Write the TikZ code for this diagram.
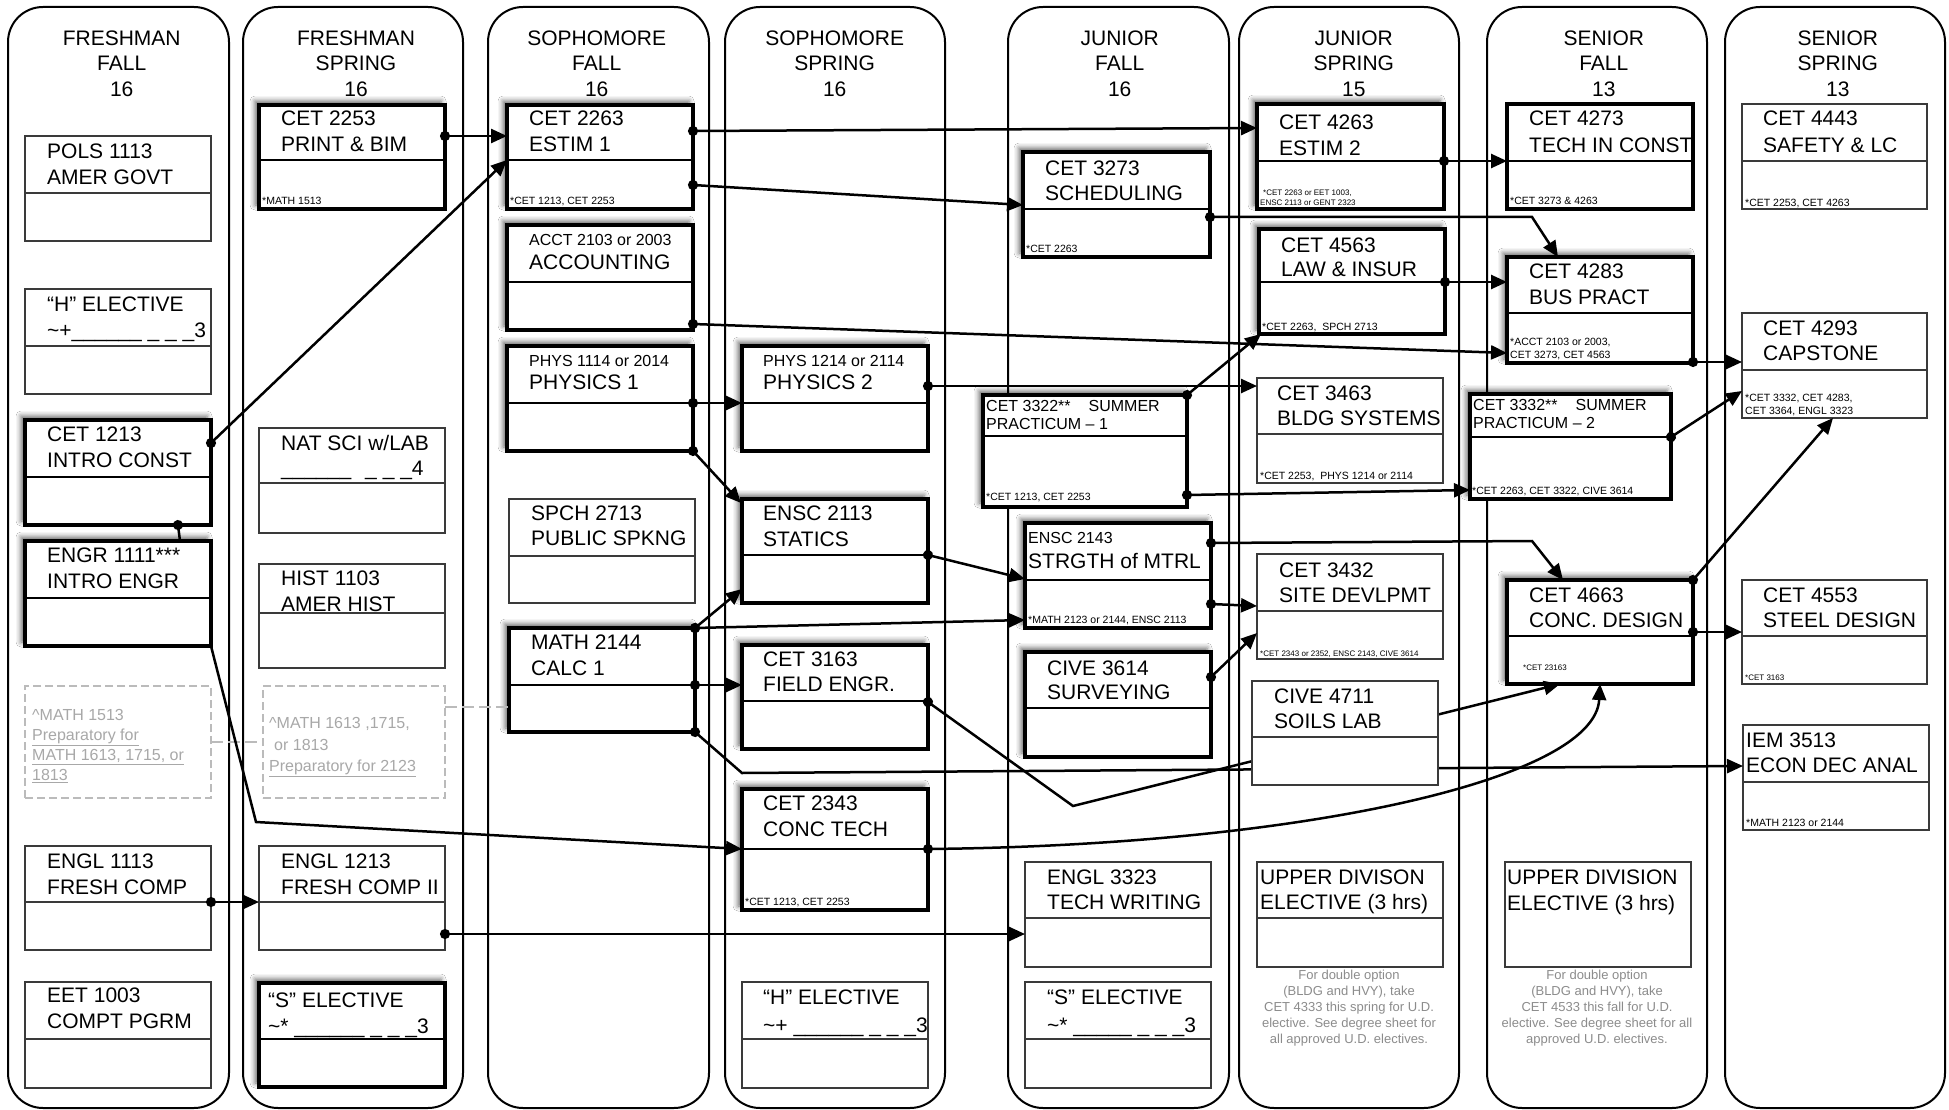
\documentclass[tikz,border=0pt]{standalone}
\usepackage{fontspec}
\setmainfont{Liberation Sans}
\usetikzlibrary{arrows.meta,calc,shadows.blur}
\definecolor{thingray}{HTML}{3A3A3A}
\definecolor{dashgray}{HTML}{BBBBBB}
\definecolor{notegray}{HTML}{8C8C8C}
\definecolor{dashtext}{HTML}{A8A8A8}
\newcommand\fs[1]{\fontsize{#1}{#1}\selectfont}
% box: name, style, x1, y1, x2, y2, y of divider
\newcommand\crs[7]{%
  \node[#2, minimum width={(#5-#3)*1pt}, minimum height={(#6-#4)*1pt}] (#1) at (#3,#4) {};
  \draw[#2 div] ($(#1.north west)+(0,#7-#4)$) -- ($(#1.north east)+(0,#7-#4)$);}
% two title lines: name, x, y1, text1, y2, text2
\newcommand\ttl[6]{%
  \node[ttl] (#1-a) at (#2,#3) {#4};
  \node[ttl] (#1-b) at (#2,#5) {#6};}
\newcommand\nt[4]{\node[nt] (#1) at (#2,#3) {#4};}
\newcommand\ntt[4]{\node[ntt] (#1) at (#2,#3) {#4};}
\newcommand\hdr[5]{%
  \node[hdr] (#1-a) at (#2,38) {#3};
  \node[hdr] (#1-b) at (#2,63) {#4};
  \node[hdr] (#1-c) at (#2,89) {#5};}
\begin{document}
\begin{tikzpicture}[x=1pt,y=-1pt,
  column/.style={draw=black, line width=2pt, rounded corners=35pt},
  boxbase/.style={anchor=north west, inner sep=0pt, outer sep=0pt, fill=white},
  thinbox/.style={boxbase, draw=thingray, line width=1.5pt},
  thickbox/.style={boxbase, draw=black, line width=4pt,
    blur shadow={shadow xshift=-4pt, shadow yshift=4pt, shadow blur radius=5pt, shadow opacity=60}},
  thickns/.style={boxbase, draw=black, line width=4pt},
  thinbox div/.style={draw=thingray, line width=1.5pt},
  thickbox div/.style={draw=black, line width=2pt},
  thickns div/.style={draw=black, line width=2pt},
  dashbox/.style={anchor=north west, inner sep=0pt, outer sep=0pt, draw=dashgray, line width=2.5pt, dash pattern=on 8pt off 4pt},
  ttl/.style={anchor=west, inner sep=0pt, text height=15pt, text depth=0pt, font=\fs{21}},
  ttls/.style={anchor=west, inner sep=0pt, text height=11.5pt, text depth=0pt, font=\fs{16}},
  nt/.style={anchor=west, inner sep=0pt, text height=7.5pt, text depth=0pt, font=\fs{10.5}},
  ntt/.style={anchor=west, inner sep=0pt, text height=5.8pt, text depth=0pt, font=\fs{8}},
  hdr/.style={anchor=center, inner sep=0pt, text height=15pt, text depth=0pt, font=\fs{21}},
  dtxt/.style={anchor=west, inner sep=0pt, text height=11.5pt, text depth=0pt, font=\fs{16}, text=dashtext},
  graynote/.style={anchor=north, align=center, inner sep=0pt, font=\fontsize{13}{16}\selectfont, text=notegray},
  conn/.style={line width=2.5pt, shorten <=-5pt, {Circle[length=10pt]}-{Triangle[length=16pt,width=14pt]}},
  dotln/.style={line width=2.5pt, shorten <=-5pt, {Circle[length=10pt]}-},
  arrln/.style={line width=2.5pt, -{Triangle[length=16pt,width=14pt]}},
  dashconn/.style={draw=dashgray, line width=2pt, dash pattern=on 12pt off 5pt}
]
\useasboundingbox (0,0) rectangle (1949,1110);
\fill[white] (0,0) rectangle (1949,1110);
% columns
\draw[column] (8,7) rectangle (229,1108);
\draw[column] (243,7) rectangle (463,1108);
\draw[column] (488,7) rectangle (709,1108);
\draw[column] (725,7) rectangle (945,1108);
\draw[column] (1008,7) rectangle (1229,1108);
\draw[column] (1239,7) rectangle (1459,1108);
\draw[column] (1487,7) rectangle (1707,1108);
\draw[column] (1725,7) rectangle (1945,1108);
\hdr{h1}{121.7}{FRESHMAN}{FALL}{16}
\hdr{h2}{356}{FRESHMAN}{SPRING}{16}
\hdr{h3}{596.7}{SOPHOMORE}{FALL}{16}
\hdr{h4}{834.7}{SOPHOMORE}{SPRING}{16}
\hdr{h5}{1119.7}{JUNIOR}{FALL}{16}
\hdr{h6}{1353.8}{JUNIOR}{SPRING}{15}
\hdr{h7}{1603.8}{SENIOR}{FALL}{13}
\hdr{h8}{1837.8}{SENIOR}{SPRING}{13}

% ---- column 1
\crs{pols}{thinbox}{25}{136}{211}{241}{193}
\ttl{pols}{47}{151}{POLS 1113}{177}{AMER GOVT}
\crs{helecA}{thinbox}{25}{289}{211}{394}{346}
\ttl{helecA}{47}{304}{“H” ELECTIVE}{330}{\textasciitilde+\_\_\_\_\_\_ \_ \_ \_3}
\crs{cet1213}{thickbox}{25}{420}{211}{525}{477}
\ttl{cet1213}{47}{434}{CET 1213}{460}{INTRO CONST}
\crs{engr1111}{thickbox}{25}{541}{211}{646}{598}
\ttl{engr1111}{47}{555}{ENGR 1111***}{581}{INTRO ENGR}
\node[dashbox, minimum width=186pt, minimum height=112pt] (math1513) at (25,686) {};
\node[dtxt] (math1513-a) at (32,715) {\textasciicircum MATH 1513};
\node[dtxt] (math1513-b) at (32,735) {\underline{Preparatory for}};
\node[dtxt] (math1513-c) at (32,755) {\underline{MATH 1613, 1715, or}};
\node[dtxt] (math1513-d) at (32,775) {\underline{1813}};
\crs{engl1113}{thinbox}{25}{846}{211}{950}{902}
\ttl{engl1113}{47}{861}{ENGL 1113}{887}{FRESH COMP}
\crs{eet1003}{thinbox}{25}{982}{211}{1088}{1039}
\ttl{eet1003}{47}{995}{EET 1003}{1021}{COMPT PGRM}

% ---- column 2
\crs{cet2253}{thickbox}{259}{105}{445}{209}{160}
\ttl{cet2253}{281}{118}{CET 2253}{144}{PRINT \& BIM}
\nt{cet2253-n}{262}{201}{*MATH 1513}
\crs{natsci}{thinbox}{259}{428}{445}{533}{483}
\ttl{natsci}{281}{443}{NAT SCI w/LAB}{468}{\_\_\_\_\_\_\hspace{14pt}\_ \_ \_4}
\crs{hist1103}{thinbox}{259}{564}{445}{668}{613}
\ttl{hist1103}{281}{578}{HIST 1103}{604}{AMER HIST}
\node[dashbox, minimum width=182pt, minimum height=112pt] (math1613) at (263,686) {};
\node[dtxt] (math1613-a) at (269,723) {\textasciicircum MATH 1613 ,1715,};
\node[dtxt] (math1613-b) at (274,745) {or 1813};
\node[dtxt] (math1613-c) at (269,766) {\underline{Preparatory for 2123}};
\crs{engl1213}{thinbox}{259}{846}{445}{950}{902}
\ttl{engl1213}{281}{861}{ENGL 1213}{887}{FRESH COMP II}
\crs{selecA}{thickbox}{259}{983}{445}{1087}{1039}
\ttl{selecA}{268}{1000}{“S” ELECTIVE}{1026}{\textasciitilde* \_\_\_\_\_\_ \_ \_ \_3}

% ---- column 3
\crs{cet2263}{thickbox}{507}{105}{693}{209}{160}
\ttl{cet2263}{529}{118}{CET 2263}{144}{ESTIM 1}
\nt{cet2263-n}{510}{201}{*CET 1213, CET 2253}
\crs{acct}{thickbox}{507}{225}{693}{330}{282}
\node[ttls] (acct-a) at (529,240) {ACCT 2103 or 2003};
\node[ttl] (acct-b) at (529,262) {ACCOUNTING};
\crs{phys1}{thickbox}{507}{346}{693}{451}{403}
\node[ttls] (phys1-a) at (529,361) {PHYS 1114 or 2014};
\node[ttl] (phys1-b) at (529,382) {PHYSICS 1};
\crs{spch}{thinbox}{509}{499}{695}{603}{556}
\ttl{spch}{531}{513}{SPCH 2713}{538}{PUBLIC SPKNG}
\crs{math2144}{thickbox}{509}{628}{695}{732}{685}
\ttl{math2144}{531}{642}{MATH 2144}{668}{CALC 1}

% ---- column 4
\crs{phys2}{thickbox}{742}{346}{928}{451}{403}
\node[ttls] (phys2-a) at (763,361) {PHYS 1214 or 2114};
\node[ttl] (phys2-b) at (763,382) {PHYSICS 2};
\crs{ensc2113}{thickbox}{742}{499}{928}{603}{555}
\ttl{ensc2113}{763}{513}{ENSC 2113}{539}{STATICS}
\crs{cet3163}{thickbox}{742}{645}{928}{749}{701}
\ttl{cet3163}{763}{659}{CET 3163}{684}{FIELD ENGR.}
\crs{cet2343}{thickbox}{742}{789}{928}{910}{849}
\ttl{cet2343}{763}{803}{CET 2343}{829}{CONC TECH}
\nt{cet2343-n}{745}{902}{*CET 1213, CET 2253}
\crs{helecB}{thinbox}{742}{982}{928}{1088}{1039}
\ttl{helecB}{763}{997}{“H” ELECTIVE}{1025}{\textasciitilde+ \_\_\_\_\_\_ \_ \_ \_3}

% ---- column 5
\crs{cet3273}{thickbox}{1023}{152}{1210}{257}{209}
\ttl{cet3273}{1045}{168}{CET 3273}{193}{SCHEDULING}
\nt{cet3273-n}{1026}{249}{*CET 2263}
\crs{cet3322}{thickbox}{983}{395}{1187}{507}{436}
\node[ttls] (cet3322-a) at (986,406) {CET 3322**\hspace{18pt}SUMMER};
\node[ttls] (cet3322-b) at (986,424) {PRACTICUM – 1};
\nt{cet3322-n}{986}{497}{*CET 1213, CET 2253}
\crs{strgth}{thickbox}{1025}{523}{1211}{628}{580}
\node[ttls] (strgth-a) at (1028,538) {ENSC 2143};
\node[ttl] (strgth-b) at (1028,561) {STRGTH of MTRL};
\nt{strgth-n}{1028}{620}{*MATH 2123 or 2144, ENSC 2113}
\crs{cive3614}{thickbox}{1025}{652}{1211}{757}{708}
\ttl{cive3614}{1047}{668}{CIVE 3614}{692}{SURVEYING}
\crs{engl3323}{thinbox}{1025}{862}{1211}{967}{918}
\ttl{engl3323}{1047}{877}{ENGL 3323}{902}{TECH WRITING}
\crs{selecB}{thinbox}{1025}{982}{1211}{1088}{1039}
\ttl{selecB}{1047}{997}{“S” ELECTIVE}{1025}{\textasciitilde* \_\_\_\_\_ \_ \_ \_3}

% ---- column 6
\crs{cet4263}{thickbox}{1257}{104}{1444}{209}{161}
\ttl{cet4263}{1279}{122}{CET 4263}{148}{ESTIM 2}
\ntt{cet4263-n}{1263}{193}{*CET 2263 or EET 1003,}
\ntt{cet4263-m}{1260}{203}{ENSC 2113 or GENT 2323}
\crs{cet4563}{thickbox}{1259}{229}{1445}{334}{282}
\ttl{cet4563}{1281}{245}{CET 4563}{269}{LAW \& INSUR}
\nt{cet4563-n}{1262}{327}{*CET 2263,\ \ SPCH 2713}
\crs{cet3463}{thinbox}{1257}{378}{1443}{483}{434}
\ttl{cet3463}{1277}{393}{CET 3463}{418}{BLDG SYSTEMS}
\nt{cet3463-n}{1260}{476}{*CET 2253,\ \ PHYS 1214 or 2114}
\crs{cet3432}{thinbox}{1257}{554}{1443}{659}{611}
\ttl{cet3432}{1279}{570}{CET 3432}{595}{SITE DEVLPMT}
\ntt{cet3432-n}{1260}{654}{*CET 2343 or 2352, ENSC 2143, CIVE 3614}
\crs{udeA}{thinbox}{1257}{862}{1443}{967}{918}
\ttl{udeA}{1260}{877}{UPPER DIVISON}{902}{ELECTIVE (3 hrs)}
\node[graynote] (udeA-note) at (1349,970) {For double option\\(BLDG and HVY), take\\CET 4333 this spring for U.D.\\elective. See degree sheet for\\all approved U.D. electives.};

% ---- column 7
\crs{cet4273}{thickns}{1507}{104}{1693}{209}{161}
\ttl{cet4273}{1529}{118}{CET 4273}{145}{TECH IN CONST}
\nt{cet4273-n}{1510}{201}{*CET 3273 \& 4263}
\crs{cet4283}{thickbox}{1507}{257}{1693}{363}{313}
\ttl{cet4283}{1529}{271}{CET 4283}{297}{BUS PRACT}
\nt{cet4283-n}{1510}{342}{*ACCT 2103 or 2003,}
\nt{cet4283-m}{1510}{355}{CET 3273, CET 4563}
\crs{cet3332}{thickbox}{1470}{394}{1671}{499}{437}
\node[ttls] (cet3332-a) at (1473,405) {CET 3332**\hspace{18pt}SUMMER};
\node[ttls] (cet3332-b) at (1473,423) {PRACTICUM – 2};
\nt{cet3332-n}{1472}{491}{*CET 2263, CET 3322, CIVE 3614}
\crs{cet4663}{thickbox}{1507}{580}{1693}{684}{636}
\ttl{cet4663}{1529}{595}{CET 4663}{620}{CONC. DESIGN}
\ntt{cet4663-n}{1523}{668}{*CET 23163}
\node[thinbox, minimum width=186pt, minimum height=105pt] (udeB) at (1505,862) {};
\ttl{udeB}{1507}{877}{UPPER DIVISION}{903}{ELECTIVE (3 hrs)}
\node[graynote] (udeB-note) at (1597,970) {For double option\\(BLDG and HVY), take\\CET 4533 this fall for U.D.\\elective. See degree sheet for all\\approved U.D. electives.};

% ---- column 8
\crs{cet4443}{thinbox}{1742}{104}{1927}{209}{161}
\ttl{cet4443}{1763}{118}{CET 4443}{145}{SAFETY \& LC}
\nt{cet4443-n}{1745}{203}{*CET 2253, CET 4263}
\crs{cet4293}{thinbox}{1742}{313}{1927}{418}{370}
\ttl{cet4293}{1763}{328}{CET 4293}{353}{CAPSTONE}
\nt{cet4293-n}{1745}{398}{*CET 3332, CET 4283,}
\nt{cet4293-m}{1745}{411}{CET 3364,\ ENGL 3323}
\crs{cet4553}{thinbox}{1742}{580}{1927}{684}{636}
\ttl{cet4553}{1763}{595}{CET 4553}{620}{STEEL DESIGN}
\ntt{cet4553-n}{1745}{678}{*CET 3163}
\crs{iem3513}{thinbox}{1743}{725}{1929}{830}{782}
\ttl{iem3513}{1746}{740}{IEM 3513}{765}{ECON DEC ANAL}
\nt{iem3513-n}{1746}{823}{*MATH 2123 or 2144}

% ---- connectors passing behind CIVE 4711
\draw[conn] (math2144.south east) -- ++(47,41) -- ($(iem3513.north west)+(0,41)$);
\draw[conn] ($(cet3163.north east)+(0,57)$) -- ++(145,104) -- ($(cet4663.south west)+(53,0)$);
\crs{cive4711}{thinbox}{1252}{681}{1438}{785}{737}
\ttl{cive4711}{1274}{696}{CIVE 4711}{721}{SOILS LAB}

% ---- dashed links
\draw[dashconn] ($(math1513.north east)+(0,56)$) -- ($(math1613.north west)+(0,56)$);
\draw[dashconn] ($(math1613.north east)+(0,21)$) -- ($(math2144.north west)+(0,79)$);

% ---- connectors
\draw[conn] ($(cet2253.north east)+(0,31)$) -- ($(cet2263.north west)+(0,31)$);
\draw[conn] ($(cet1213.north east)+(0,23)$) -- ($(cet2263.north west)+(0,55)$);
\draw[dotln] ($(cet1213.south west)+(153,0)$) -- ($(engr1111.north west)+(155,0)$);
\draw[conn] ($(cet2263.north east)+(0,26)$) -- ($(cet4263.north west)+(0,24)$);
\draw[conn] ($(cet2263.north east)+(0,80)$) -- ($(cet3273.north west)+(0,53)$);
\draw[conn] ($(acct.north east)+(0,99)$) -- ($(cet4283.north west)+(0,96)$);
\draw[conn] ($(cet3273.north east)+(0,65)$) -- ++(322,0) -- ($(cet4283.north west)+(51,0)$);
\draw[conn] ($(cet4263.north east)+(0,57)$) -- ($(cet4273.north west)+(0,57)$);
\draw[conn] ($(cet4563.north east)+(0,53)$) -- ($(cet4283.north west)+(0,25)$);
\draw[conn] ($(cet4283.south east)+(0,-1)$) -- ($(cet4293.north west)+(0,49)$);
\draw[conn] ($(phys1.north east)+(0,57)$) -- ($(phys2.north west)+(0,57)$);
\draw[conn] (phys1.south east) -- ($(ensc2113.north west)+(-1,4)$);
\draw[conn] ($(phys2.north east)+(0,40)$) -- ($(cet3463.north west)+(0,8)$);
\draw[conn] (cet3322.north east) -- ($(cet4563.south west)+(2,0)$);
\draw[conn] ($(cet3322.north east)+(0,100)$) -- ($(cet3332.north west)+(0,96)$);
\draw[conn] ($(ensc2113.north east)+(0,56)$) -- ($(strgth.north west)+(0,56)$);
\draw[conn] (math2144.north east) -- ($(ensc2113.north west)+(0,90)$);
\draw[conn] (math2144.north east) -- ($(strgth.north west)+(0,97)$);
\draw[conn] ($(math2144.north east)+(0,57)$) -- ($(cet3163.north west)+(0,40)$);
\draw[arrln] (engr1111.south east) -- ++(45,176) -- ($(cet2343.north west)+(0,60)$);
\draw[conn] ($(engl1113.north east)+(0,56)$) -- ($(engl1213.north west)+(0,56)$);
\draw[conn] ($(engl1213.north east)+(0,88)$) -- ($(engl3323.north west)+(0,72)$);
\draw[conn] ($(cet2343.north east)+(0,60)$) .. controls (1300,845) and (1595,780) .. ($(cet4663.south west)+(93,0)$);
\draw[conn] ($(cive3614.north east)+(0,25)$) -- ($(cet3432.north west)+(0,79)$);
\draw[conn] ($(strgth.north east)+(0,81)$) -- ($(cet3432.north west)+(0,52)$);
\draw[conn] ($(strgth.north east)+(0,20)$) -- ++(321,-2) -- ($(cet4663.north west)+(56,0)$);
\draw[conn] ($(cet3332.north east)+(0,43)$) -- ($(cet4293.north west)+(0,78)$);
\draw[conn] (cet4663.north east) -- ($(cet4293.south west)+(91,0)$);
\draw[conn] ($(cet4663.north east)+(0,52)$) -- ($(cet4553.north west)+(0,52)$);
\end{tikzpicture}
\end{document}
